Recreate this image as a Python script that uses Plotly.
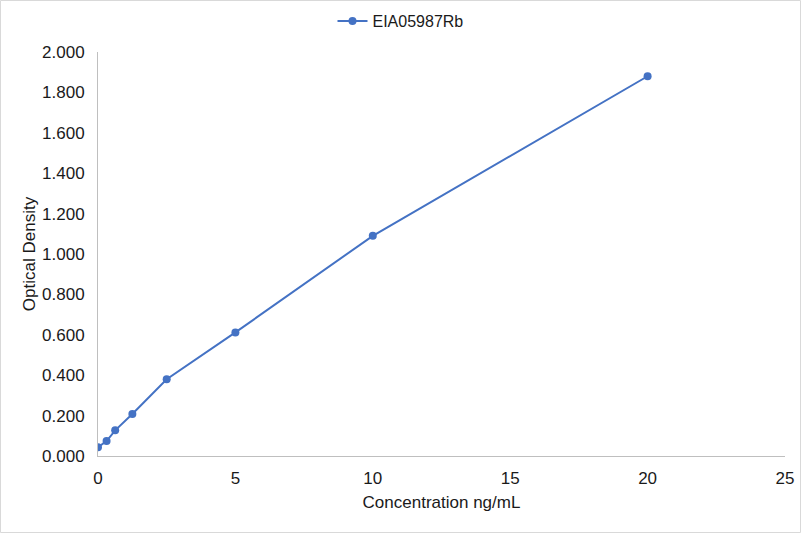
import plotly.graph_objects as go

conc = [0, 0.3125, 0.625, 1.25, 2.5, 5, 10, 20]
od = [0.043, 0.074, 0.127, 0.208, 0.380, 0.612, 1.090, 1.880]
series_name = "EIA05987Rb"
x_ticks = [0, 5, 10, 15, 20, 25]
y_ticks = [0, 0.2, 0.4, 0.6, 0.8, 1.0, 1.2, 1.4, 1.6, 1.8, 2.0]
color = "#4472C4"

FONT = "Liberation Sans, Arial, sans-serif"
TXT = "#1a1a1a"

fig = go.Figure()
fig.add_trace(go.Scatter(x=conc, y=od, mode="lines+markers", name=series_name,
                         line=dict(color=color, width=2),
                         marker=dict(color=color, size=8)))

L, R, T, B = 98, 16, 52, 77
PW, PH = 801 - L - R, 533 - T - B

fig.update_layout(
    width=801, height=533,
    margin=dict(l=L, r=R, t=T, b=B, autoexpand=False),
    paper_bgcolor="white", plot_bgcolor="white",
    font=dict(family=FONT, size=17, color=TXT),
    showlegend=True,
    legend=dict(orientation="h", x=0.5, xanchor="center", xref="container",
                y=1 + (T - 21) / PH, yanchor="middle", yref="paper",
                font=dict(family=FONT, size=16, color=TXT)),
    xaxis=dict(range=[0, 25], tickvals=x_ticks, showgrid=False, zeroline=False,
               showline=True, linecolor="#BFBFBF", linewidth=1, ticks="",
               ticklabelstandoff=7,
               tickfont=dict(size=17, color=TXT),
               title=dict(text="Concentration ng/mL", font=dict(size=17, color=TXT), standoff=8)),
    yaxis=dict(range=[0, 2.0], tickvals=y_ticks,
               tickformat=".3f", showgrid=False, zeroline=False,
               showline=True, linecolor="#BFBFBF", linewidth=1, ticks="",
               ticklabelstandoff=9,
               tickfont=dict(size=17, color=TXT),
               title=dict(text="Optical Density", font=dict(size=17, color=TXT), standoff=2)),
)
fig.add_shape(type="rect", xref="paper", yref="paper",
              x0=-(L - 0.5) / PW, x1=1 + (R - 0.5) / PW, y0=-(B - 0.5) / PH, y1=1 + (T - 0.5) / PH,
              line=dict(color="#D9D9D9", width=1), layer="below")
fig.write_html("out.html", config={"displayModeBar": False},
               post_script="document.body.style.margin='0';document.body.style.overflow='hidden';")
